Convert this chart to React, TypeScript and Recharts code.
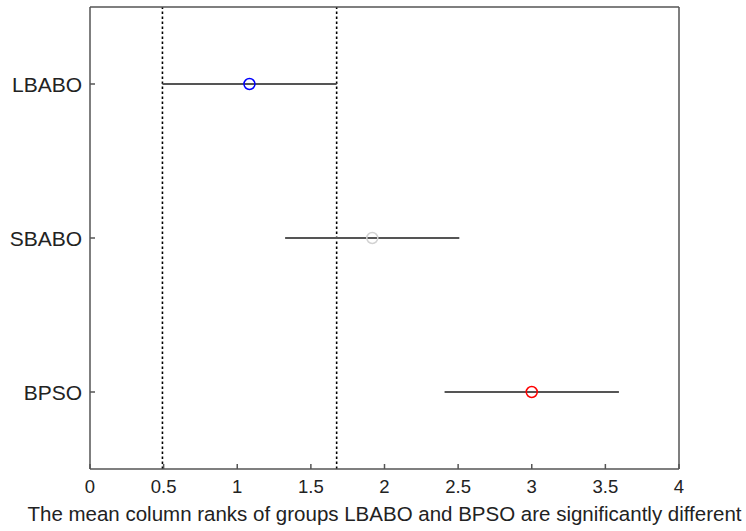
import React from 'react';
import { ScatterChart, Scatter, XAxis, YAxis, ErrorBar, ReferenceLine, Label } from 'recharts';

const groups = ['LBABO', 'SBABO', 'BPSO'];
const meanRanks = [1.083, 1.917, 3.0];
const lowerBounds = [0.492, 1.325, 2.408];
const upperBounds = [1.675, 2.508, 3.592];
const markerColors = ['#0000ff', '#d2d2d2', '#ff0000'];
const xTicks = [0, 0.5, 1, 1.5, 2, 2.5, 3, 3.5, 4];
const yTicks = [1, 2, 3];
const xLabel = 'The mean column ranks of groups LBABO and BPSO are significantly different';

const FONT = '"Liberation Sans", Arial, sans-serif';
const FRAME = '#555';

const rows = groups.map((g, i) => ({
  name: g,
  x: meanRanks[i],
  y: i + 1,
  err: [meanRanks[i] - lowerBounds[i], upperBounds[i] - meanRanks[i]],
}));

const BottomTick = (props: any) => {
  const { x, y, payload } = props;
  return (
    <text x={x} y={y + 24} textAnchor="middle" fontSize={18.5} fontFamily={FONT} fill="#222">
      {payload.value}
    </text>
  );
};

const LeftTick = (props: any) => {
  const { x, y, payload } = props;
  return (
    <text x={x - 8} y={y} dy="0.36em" textAnchor="end" fontSize={21} fontFamily={FONT} fill="#222">
      {groups[payload.value - 1]}
    </text>
  );
};

const ringShape = (color: string) => (props: any) => (
  <circle cx={props.cx} cy={props.cy} r={5.5} fill="none" stroke={color} strokeWidth={1.5} />
);

const frameLine = { stroke: FRAME, strokeWidth: 1.5 };

export default function App() {
  return (
    <div style={{ position: 'absolute', left: 0, top: 0, background: '#fff' }}>
      <ScatterChart width={746} height={531} margin={{ top: 6, right: 66, bottom: 0, left: 0 }}>
        <XAxis
          xAxisId="main"
          dataKey="x"
          type="number"
          domain={[0, 4]}
          ticks={xTicks}
          height={62}
          tickSize={-5}
          tickMargin={5}
          tickLine={frameLine}
          axisLine={frameLine}
          tick={BottomTick}
        >
          <Label
            value={xLabel}
            position="insideBottom"
            offset={10}
            fontSize={20.5}
            fontFamily={FONT}
            fill="#222"
          />
        </XAxis>
        <XAxis
          xAxisId="top"
          orientation="top"
          type="number"
          domain={[0, 4]}
          ticks={xTicks}
          height={1}
          tickSize={-5}
          tickMargin={0}
          tick={false}
          axisLine={frameLine}
          tickLine={frameLine}
        />
        <YAxis
          yAxisId="main"
          dataKey="y"
          type="number"
          domain={[0.5, 3.5]}
          reversed
          ticks={yTicks}
          width={90}
          tickSize={-5}
          tickMargin={5}
          tickLine={frameLine}
          axisLine={frameLine}
          tick={LeftTick}
        />
        <YAxis
          yAxisId="right"
          orientation="right"
          type="number"
          domain={[0.5, 3.5]}
          reversed
          ticks={yTicks}
          width={1}
          tickSize={-5}
          tickMargin={0}
          tick={false}
          axisLine={frameLine}
          tickLine={frameLine}
        />
        <ReferenceLine
          xAxisId="main"
          yAxisId="main"
          x={lowerBounds[0]}
          stroke="#000"
          strokeWidth={1.6}
          strokeDasharray="2.5 2.5"
        />
        <ReferenceLine
          xAxisId="main"
          yAxisId="main"
          x={upperBounds[0]}
          stroke="#000"
          strokeWidth={1.6}
          strokeDasharray="2.5 2.5"
        />
        {rows.map((r, i) => (
          <Scatter
            key={r.name}
            xAxisId="main"
            yAxisId="main"
            data={[r]}
            shape={ringShape(markerColors[i])}
            isAnimationActive={false}
          >
            <ErrorBar dataKey="err" direction="x" width={0} stroke="#555" strokeWidth={2} isAnimationActive={false} />
          </Scatter>
        ))}
      </ScatterChart>
    </div>
  );
}
